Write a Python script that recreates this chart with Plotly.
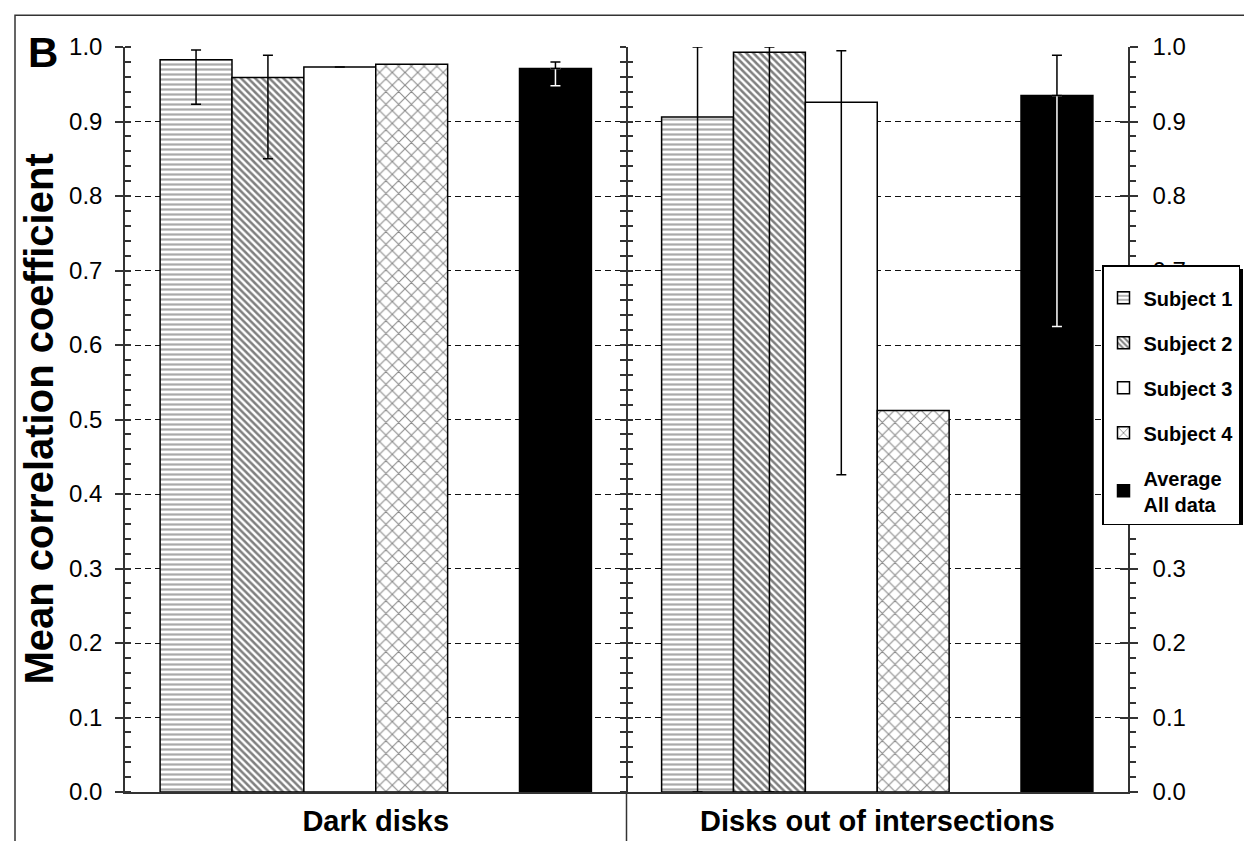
import plotly.graph_objects as go

categories = ["Dark disks", "Disks out of intersections"]
series_names = ["Subject 1", "Subject 2", "Subject 3", "Subject 4", " ", "Average<br>All data"]

subject1 = [0.983, 0.906]
subject2 = [0.959, 0.993]
subject3 = [0.973, 0.926]
subject4 = [0.977, 0.512]
blank = [0.0, 0.0]
average = [0.971, 0.935]

err_plus = {
    "Subject 1": [0.013, 0.094],
    "Subject 2": [0.030, 0.007],
    "Subject 3": [0.0, 0.069],
    "Average": [0.009, 0.054],
}
err_minus = {
    "Subject 1": [0.060, 0.906],
    "Subject 2": [0.109, 0.993],
    "Subject 3": [0.0, 0.500],
    "Average": [0.023, 0.310],
}

FONT = "Liberation Sans, Arial, sans-serif"
L, R, T, B = 117, 1120, 39, 787
W, H = R - L, B - T

def px_x(p):
    return (p - L) / W

def px_y(p):
    return (B - p) / H

fig = go.Figure()

def err(key, color="black", plus=True, minus=True, width=5):
    return dict(
        type="data", symmetric=False,
        array=err_plus[key] if plus else [0, 0],
        arrayminus=err_minus[key] if minus else [0, 0],
        color=color, thickness=1.5, width=width, visible=True,
    )

outline = dict(color="black", width=1.5)
clear = dict(color="rgba(0,0,0,0)", line=dict(width=0))

fig.add_trace(go.Bar(
    x=categories, y=subject1, name=series_names[0], offsetgroup="g1", legendgroup="a",
    marker=dict(color="white", line=outline,
                pattern=dict(shape="-", size=5, solidity=0.45, fgcolor="#555555", bgcolor="white")),
    error_y=err("Subject 1"),
))
fig.add_trace(go.Bar(
    x=categories, y=subject2, name=series_names[1], offsetgroup="g2", legendgroup="b",
    marker=dict(color="white", line=outline,
                pattern=dict(shape="\\", size=5, solidity=0.5, fgcolor="black", bgcolor="white")),
    error_y=err("Subject 2"),
))
fig.add_trace(go.Bar(
    x=categories, y=subject3, name=series_names[2], offsetgroup="g3", legendgroup="c",
    marker=dict(color="white", line=outline),
    error_y=err("Subject 3"),
))
fig.add_trace(go.Bar(
    x=categories, y=subject4, name=series_names[3], offsetgroup="g4", legendgroup="d",
    marker=dict(color="white", line=outline,
                pattern=dict(shape="x", size=9, solidity=0.22, fgcolor="#111111", bgcolor="white")),
))
# empty series (keeps the gap before the average bars)
fig.add_trace(go.Bar(
    x=categories, y=blank, name=series_names[4], offsetgroup="g5", showlegend=False,
    marker=clear, hoverinfo="skip",
))
fig.add_trace(go.Bar(
    x=categories, y=average, name=series_names[5], offsetgroup="g6", legendgroup="f",
    marker=dict(color="black", line=outline),
))
# white lower half of the average error bar (inside the black bar)
fig.add_trace(go.Bar(
    x=categories, y=average, offsetgroup="g6", showlegend=False, marker=clear,
    error_y=err("Average", color="white", plus=False), hoverinfo="skip",
))
# black upper half of the average error bar
fig.add_trace(go.Bar(
    x=categories, y=average, offsetgroup="g6", showlegend=False, marker=clear,
    error_y=err("Average", minus=False), hoverinfo="skip",
))

tickfont = dict(family=FONT, size=24, color="black")

common_y = dict(range=[0, 1], dtick=0.1, fixedrange=True, zeroline=False,
                showline=True, linecolor="#333333", linewidth=1.5,
                tickcolor="#333333", tickwidth=1.5)

LEG_LEFT, LEG_TOP = 1094, 258
LEG_W, LEG_H = 137, 257

fig.update_layout(
    width=1252, height=841, autosize=False,
    margin=dict(l=L, r=1252 - R, t=T, b=841 - B),
    paper_bgcolor="white", plot_bgcolor="white",
    barmode="group", bargap=0.14, bargroupgap=0,
    showlegend=True,
    legend=dict(
        x=px_x(LEG_LEFT), y=px_y(LEG_TOP), xanchor="left", yanchor="top",
        bgcolor="white", bordercolor="black", borderwidth=1.5,
        font=dict(family=FONT, size=20, color="black", weight="bold"),
        tracegroupgap=16, itemwidth=30,
        title=dict(text=" ", font=dict(size=9)),
    ),
    xaxis=dict(
        type="category", categoryorder="array", categoryarray=categories,
        range=[-0.5, 1.5], showline=True, linecolor="#333333", linewidth=1.5,
        ticks="", showgrid=False, zeroline=False, fixedrange=True,
        tickfont=dict(family=FONT, size=29, color="black", weight="bold"),
        ticklabelstandoff=2,
    ),
    yaxis=dict(
        **common_y, side="left", ticks="outside", ticklen=8,
        tickformat=".1f", tickfont=tickfont, ticklabelstandoff=8,
        showgrid=True, gridcolor="#111111", gridwidth=1.3, griddash="6px,4px",
        minor=dict(dtick=0.02, ticks="inside", ticklen=6, tickcolor="#333333", tickwidth=1.5, showgrid=False),
    ),
    yaxis2=dict(
        **common_y, overlaying="y", anchor="free", position=0.5,
        ticks="outside", ticklen=6, showticklabels=False, showgrid=False,
        minor=dict(dtick=0.02, ticks="outside", ticklen=6, tickcolor="#333333", tickwidth=1.5),
    ),
    yaxis3=dict(
        **common_y, overlaying="y", anchor="free", position=0.5,
        ticks="inside", ticklen=6, showticklabels=False, showgrid=False,
        minor=dict(dtick=0.02, ticks="inside", ticklen=6, tickcolor="#333333", tickwidth=1.5),
    ),
    yaxis4=dict(
        **common_y, overlaying="y", side="right", anchor="x",
        ticks="outside", ticklen=8, tickformat=".1f", tickfont=tickfont,
        ticklabelstandoff=10, showgrid=False,
        minor=dict(dtick=0.02, ticks="outside", ticklen=6, tickcolor="#333333", tickwidth=1.5),
    ),
    yaxis5=dict(
        **common_y, overlaying="y", side="right", anchor="x",
        ticks="inside", ticklen=8, showticklabels=False, showgrid=False,
    ),
)

for ax in ["y2", "y3", "y4", "y5"]:
    fig.add_trace(go.Scatter(x=[None], y=[None], yaxis=ax, showlegend=False, hoverinfo="skip"))

fig.add_annotation(
    text="Mean correlation coefficient", textangle=-90,
    x=px_x(30), y=0.5, xref="paper", yref="paper", showarrow=False,
    font=dict(family=FONT, size=40, color="black", weight="bold"),
    xanchor="center", yanchor="middle",
)
fig.add_annotation(
    text="B", x=px_x(35), y=px_y(45), xref="paper", yref="paper", showarrow=False,
    font=dict(family=FONT, size=42, color="black", weight="bold"),
    xanchor="center", yanchor="middle",
)

# divider between the two categories extending below the axis
fig.add_shape(type="line", xref="x", yref="paper", x0=0.5, x1=0.5, y0=0, y1=px_y(860),
              line=dict(color="#333333", width=1.5))
# outer frame
fig.add_shape(type="rect", xref="paper", yref="paper",
              x0=px_x(7), x1=px_x(1246), y0=px_y(900), y1=px_y(7),
              line=dict(color="#333333", width=1.5), layer="below")
# legend drop shadow
fig.add_shape(type="rect", xref="paper", yref="paper",
              x0=px_x(LEG_LEFT + 4), x1=px_x(LEG_LEFT + LEG_W + 4),
              y0=px_y(LEG_TOP + LEG_H + 4), y1=px_y(LEG_TOP + 4),
              line=dict(width=0), fillcolor="black", layer="above")

fig.write_html("out.html")
